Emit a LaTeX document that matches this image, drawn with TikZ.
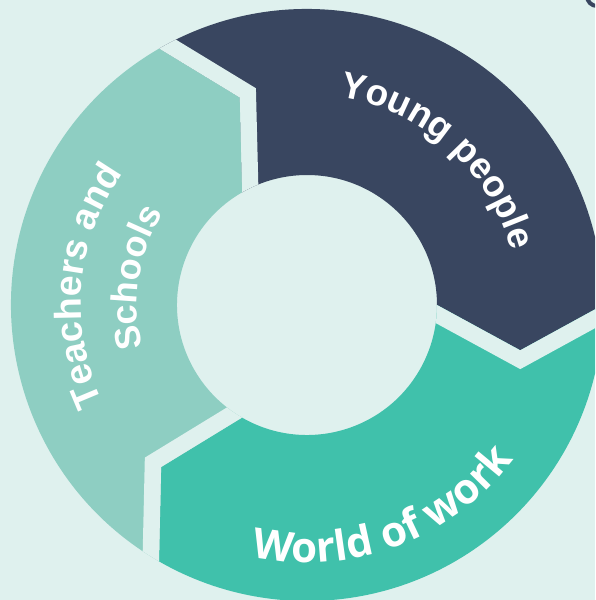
\documentclass[tikz,border=0pt]{standalone}
\usepackage{fontspec}
\setmainfont{Liberation Sans}
\newfontfamily\wowfont{Open Sans}
\usetikzlibrary{calc,decorations.text}
\definecolor{bgc}{HTML}{DFF1EE}
\definecolor{navy}{HTML}{394660}
\definecolor{paleteal}{HTML}{8ECEC2}
\definecolor{seagreen}{HTML}{40C1AB}

% one arrow-shaped ring segment: tail angle, head angle
\newcommand\armpath[2]{(#1:296) arc[start angle=#1, end angle=#2, radius=296]
    -- (#2-12:218) -- (#2:130) arc[start angle=#2, end angle=#1, radius=130]
    -- (#1-12:218) -- cycle}

\begin{document}
\begin{tikzpicture}[x=1pt,y=1pt,
  gapline/.style={draw=bgc, line width=33pt, line join=miter, miter limit=20},
  arctext/.style={decorate, decoration={text along path, text align=center, text color=white}}]
\clip (-307,-295) rectangle (288,305);
\fill[bgc] (-307,-295) rectangle (288,305);

% three segments, each cut back at its tail by a gap that follows the previous head
\foreach \t/\h/\c in {120/0/navy, 0/-120/seagreen, 240/120/paleteal}{
  \begin{scope}
    \clip \armpath{\t}{\h};
    \fill[\c] (-400,-400) rectangle (400,400);
    \coordinate (tip) at (\t-12:218);
    \draw[gapline] ($(tip)!1.5!(\t:296)$) -- (tip) -- ($(tip)!1.6!(\t:130)$);
  \end{scope}
}

% labels along the ring
\path[arctext, decoration={text={|\fontsize{37}{40}\selectfont\bfseries|Young people}}]
  (112:211) arc[start angle=112, end angle=-16, radius=211];
\path[arctext, decoration={text={|\fontsize{37.5}{40}\selectfont\bfseries|Teachers and}}]
  (235:226) arc[start angle=235, end angle=115, radius=226];
\path[arctext, decoration={text={|\fontsize{36}{40}\selectfont\bfseries|Schools}}]
  (221:170) arc[start angle=221, end angle=121, radius=170];
\path[arctext, decoration={text={|\wowfont\fontsize{42}{46}\selectfont\bfseries|World of work}}]
  (230:258) arc[start angle=230, end angle=351, radius=258];

% edge of a letter in the corner
\draw[navy, line width=4pt] (290,309) ++(180:10) arc[start angle=180, end angle=270, radius=10];
\end{tikzpicture}
\end{document}
